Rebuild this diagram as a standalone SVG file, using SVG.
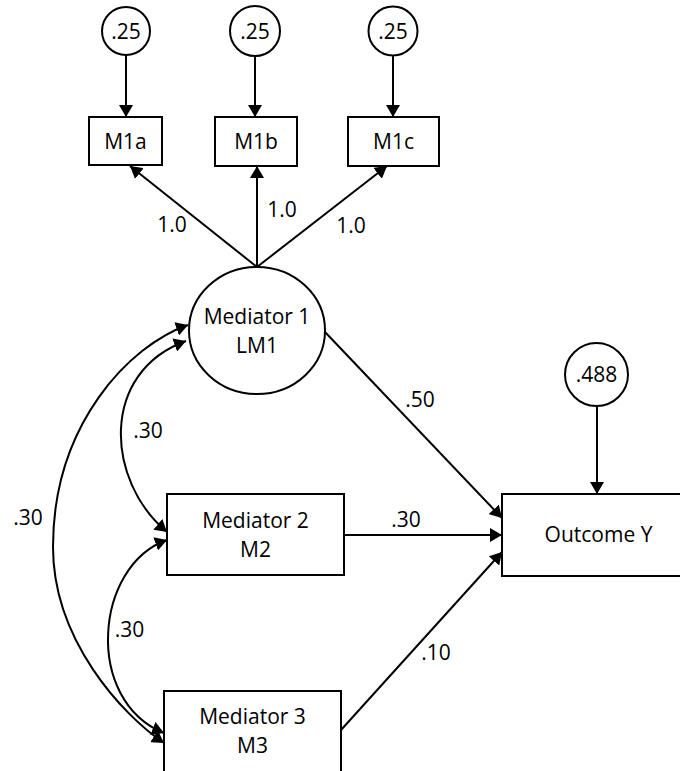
<svg xmlns="http://www.w3.org/2000/svg" width="680" height="771" viewBox="0 0 680 771">
<style>
.shape{fill:#fff;stroke:#000;stroke-width:2}
.conn{fill:none;stroke:#000;stroke-width:2}
text{font-family:"Open Sans","Liberation Sans",sans-serif;font-size:21px;fill:#000;text-anchor:middle}
</style>
<defs>
<marker id="arr" markerUnits="userSpaceOnUse" markerWidth="13" markerHeight="14" refX="12" refY="7" orient="auto-start-reverse" viewBox="0 0 13 14">
<path d="M0,0 L12,7 L0,14 z" fill="#000"/>
</marker>
</defs>
<rect width="680" height="771" fill="#fff"/>
<g id="connectors">
<line class="conn" x1="126" y1="55" x2="126" y2="117" marker-end="url(#arr)"/>
<line class="conn" x1="255" y1="56" x2="255" y2="117" marker-end="url(#arr)"/>
<line class="conn" x1="393" y1="56" x2="393" y2="117" marker-end="url(#arr)"/>
<line class="conn" x1="257" y1="267" x2="130" y2="166" marker-end="url(#arr)"/>
<line class="conn" x1="257" y1="267" x2="257" y2="166" marker-end="url(#arr)"/>
<line class="conn" x1="257" y1="267" x2="387" y2="166" marker-end="url(#arr)"/>
<line class="conn" x1="325" y1="332" x2="502" y2="518" marker-end="url(#arr)"/>
<line class="conn" x1="344" y1="535" x2="502" y2="535" marker-end="url(#arr)"/>
<line class="conn" x1="341" y1="730" x2="502" y2="552" marker-end="url(#arr)"/>
<line class="conn" x1="597" y1="406" x2="597" y2="494" marker-end="url(#arr)"/>
<path class="conn" d="M188,325 C130,345 53,424 53,547 C53,640 122.5,715 164,743" marker-start="url(#arr)" marker-end="url(#arr)"/>
<path class="conn" d="M186,341 C100,372 105,480 167,532" marker-start="url(#arr)" marker-end="url(#arr)"/>
<path class="conn" d="M167,540 C95,565 83,700 164,733" marker-start="url(#arr)" marker-end="url(#arr)"/>
<text x="172" y="232">1.0</text>
<text x="282" y="217">1.0</text>
<text x="351" y="233">1.0</text>
<text x="420" y="407">.50</text>
<text x="406" y="527">.30</text>
<text x="436" y="660">.10</text>
<text x="148" y="438">.30</text>
<text x="28" y="525">.30</text>
<text x="129.5" y="637">.30</text>
</g>
<g id="e1"><circle class="shape" cx="126" cy="31" r="24"/><text x="126" y="38.5">.25</text></g>
<g id="e2"><circle class="shape" cx="255" cy="31" r="25"/><text x="255" y="38.5">.25</text></g>
<g id="e3"><circle class="shape" cx="393" cy="31" r="24.5"/><text x="393" y="38.5">.25</text></g>
<g id="M1a"><rect class="shape" x="89" y="117" width="73" height="48"/><text x="125.5" y="148.5">M1a</text></g>
<g id="M1b"><rect class="shape" x="215" y="117" width="82" height="49"/><text x="256" y="149">M1b</text></g>
<g id="M1c"><rect class="shape" x="348" y="117" width="91" height="49"/><text x="393.5" y="149">M1c</text></g>
<g id="LM1"><ellipse class="shape" cx="257" cy="330.5" rx="68" ry="63.5"/><text x="257" y="324">Mediator 1</text><text x="257" y="353">LM1</text></g>
<g id="M2"><rect class="shape" x="167" y="494" width="177" height="81"/><text x="255.5" y="528">Mediator 2</text><text x="255.5" y="557">M2</text></g>
<g id="M3"><rect class="shape" x="164" y="691" width="177" height="82"/><text x="252.5" y="724">Mediator 3</text><text x="252.5" y="753">M3</text></g>
<g id="eY"><circle class="shape" cx="596.5" cy="374.5" r="31.5"/><text x="596.5" y="382">.488</text></g>
<g id="Y"><rect class="shape" x="502" y="494" width="192" height="82"/><text x="598.5" y="542">Outcome Y</text></g>
</svg>
